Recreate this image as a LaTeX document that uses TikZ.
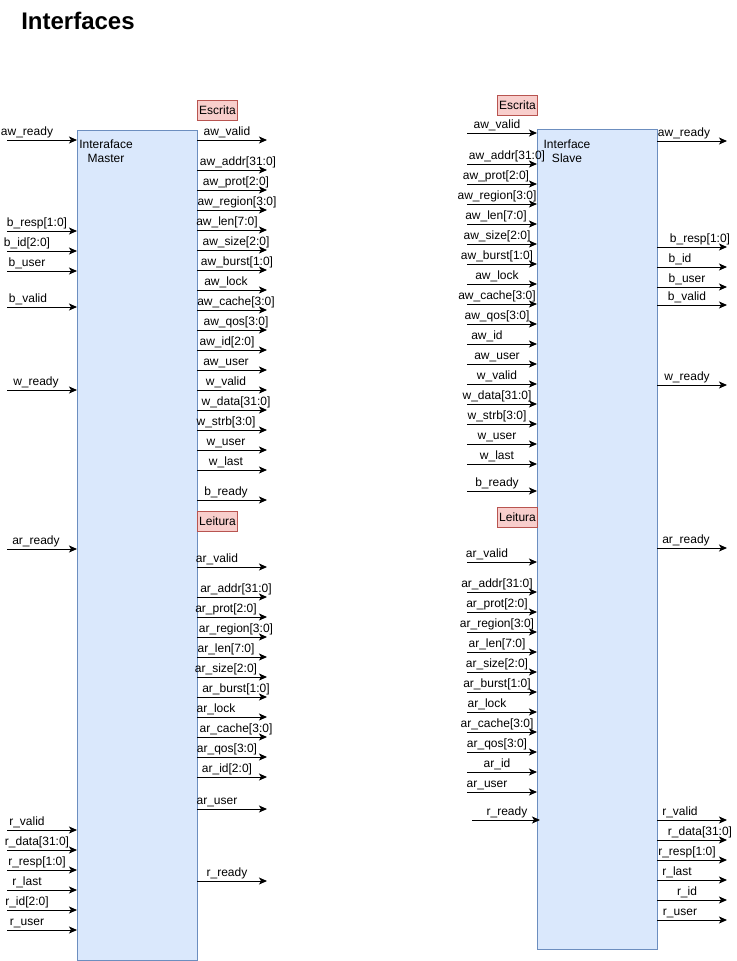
\documentclass[tikz,border=0pt]{standalone}
\usepackage{fontspec}
\setmainfont{Liberation Sans}
\usetikzlibrary{arrows.meta}
\definecolor{boxfill}{HTML}{DAE8FC}
\definecolor{boxline}{HTML}{6C8EBF}
\definecolor{tagfill}{HTML}{F8CECC}
\definecolor{tagline}{HTML}{B85450}
\tikzset{
	sig/.style={line width=0.75pt,-{Stealth[length=6pt,width=5.25pt,inset=1.5pt]}},
	lbl/.style={inner sep=0pt,anchor=base,font=\fontsize{9}{10.5}\selectfont},
	blk/.style={draw=boxline,fill=boxfill,line width=0.75pt,inner sep=0pt,outer sep=0pt,anchor=north west,minimum width=90pt},
	tag/.style={draw=tagline,fill=tagfill,line width=0.75pt,inner sep=0pt,anchor=north west,minimum width=30pt,minimum height=15pt,font=\fontsize{9}{10.5}\selectfont}
}
\newcommand{\sigin}[4]{\draw[sig] (#1.west |- 0,#2) ++(-70,0) coordinate (#1a#2) -- (#1.west |- 0,#2);
	\node[lbl] (#1t#2) at (#3,#2-4.5) {#4}}
\newcommand{\sigout}[4]{\draw[sig] (#1.east |- 0,#2) -- ++(70,0) coordinate (#1a#2);
	\node[lbl] (#1t#2) at (#3,#2-4.5) {#4}}

\begin{document}
\begin{tikzpicture}[x=0.75pt,y=-0.75pt]
	\useasboundingbox (0,0) rectangle (736,961);
	\node[anchor=base west,inner sep=0pt,font=\bfseries\fontsize{18}{20}\selectfont] (ttl) at (21,29) {Interfaces};
%
	\node[blk,minimum height=622.5pt] (mst) at (77,130) {};
	\node[blk,minimum height=615pt] (slv) at (537,129) {};
	\node[lbl,anchor=north,align=center] (msttxt) at (106,139.5) {Interaface\\Master};
	\node[lbl,anchor=north,align=center] (slvtxt) at (567,139.5) {Interface\\Slave};
	\node[tag] (mstw) at (197,100) {Escrita};
	\node[tag] (mstr) at (197,511) {Leitura};
	\node[tag] (slvw) at (497,95) {Escrita};
	\node[tag] (slvr) at (497,507) {Leitura};
%	master, entradas
	\sigin{mst}{140}{27}{aw\_ready};
	\sigin{mst}{231}{37}{b\_resp[1:0]};
	\sigin{mst}{251}{27}{b\_id[2:0]};
	\sigin{mst}{271}{27}{b\_user};
	\sigin{mst}{307}{28}{b\_valid};
	\sigin{mst}{390}{36}{w\_ready};
	\sigin{mst}{549}{36}{ar\_ready};
	\sigin{mst}{830}{27}{r\_valid};
	\sigin{mst}{850}{37}{r\_data[31:0]};
	\sigin{mst}{870}{37}{r\_resp[1:0]};
	\sigin{mst}{890}{27}{r\_last};
	\sigin{mst}{910}{27}{r\_id[2:0]};
	\sigin{mst}{930}{27}{r\_user};
%	master, saidas
	\sigout{mst}{140}{227}{aw\_valid};
	\sigout{mst}{170}{238}{aw\_addr[31:0]};
	\sigout{mst}{190}{236}{aw\_prot[2:0]};
	\sigout{mst}{210}{237}{aw\_region[3:0]};
	\sigout{mst}{230}{227}{aw\_len[7:0]};
	\sigout{mst}{250}{236}{aw\_size[2:0]};
	\sigout{mst}{270}{237}{aw\_burst[1:0]};
	\sigout{mst}{290}{226}{aw\_lock};
	\sigout{mst}{310}{236}{aw\_cache[3:0]};
	\sigout{mst}{330}{236}{aw\_qos[3:0]};
	\sigout{mst}{350}{227}{aw\_id[2:0]};
	\sigout{mst}{370}{226}{aw\_user};
	\sigout{mst}{390}{226}{w\_valid};
	\sigout{mst}{410}{236}{w\_data[31:0]};
	\sigout{mst}{430}{226}{w\_strb[3:0]};
	\sigout{mst}{450}{226}{w\_user};
	\sigout{mst}{470}{226}{w\_last};
	\sigout{mst}{500}{226}{b\_ready};
	\sigout{mst}{567}{217}{ar\_valid};
	\sigout{mst}{597}{236}{ar\_addr[31:0]};
	\sigout{mst}{617}{226}{ar\_prot[2:0]};
	\sigout{mst}{637}{236}{ar\_region[3:0]};
	\sigout{mst}{657}{226}{ar\_len[7:0]};
	\sigout{mst}{677}{226}{ar\_size[2:0]};
	\sigout{mst}{697}{236}{ar\_burst[1:0]};
	\sigout{mst}{717}{216}{ar\_lock};
	\sigout{mst}{737}{236}{ar\_cache[3:0]};
	\sigout{mst}{757}{227}{ar\_qos[3:0]};
	\sigout{mst}{777}{227}{ar\_id[2:0]};
	\sigout{mst}{809}{217}{ar\_user};
	\sigout{mst}{881}{227}{r\_ready};
%	slave, entradas
	\sigin{slv}{133}{497}{aw\_valid};
	\sigin{slv}{164}{507}{aw\_addr[31:0]};
	\sigin{slv}{184}{496}{aw\_prot[2:0]};
	\sigin{slv}{204}{497}{aw\_region[3:0]};
	\sigin{slv}{224}{496}{aw\_len[7:0]};
	\sigin{slv}{244}{497}{aw\_size[2:0]};
	\sigin{slv}{264}{497}{aw\_burst[1:0]};
	\sigin{slv}{284}{497}{aw\_lock};
	\sigin{slv}{304}{497}{aw\_cache[3:0]};
	\sigin{slv}{324}{497}{aw\_qos[3:0]};
	\sigin{slv}{344}{487}{aw\_id};
	\sigin{slv}{364}{497}{aw\_user};
	\sigin{slv}{384}{497}{w\_valid};
	\sigin{slv}{404}{497}{w\_data[31:0]};
	\sigin{slv}{424}{497}{w\_strb[3:0]};
	\sigin{slv}{444}{497}{w\_user};
	\sigin{slv}{464}{497}{w\_last};
	\sigin{slv}{491}{497}{b\_ready};
	\sigin{slv}{562}{487}{ar\_valid};
	\sigin{slv}{592}{497}{ar\_addr[31:0]};
	\sigin{slv}{612}{497}{ar\_prot[2:0]};
	\sigin{slv}{632}{497}{ar\_region[3:0]};
	\sigin{slv}{652}{497}{ar\_len[7:0]};
	\sigin{slv}{672}{497}{ar\_size[2:0]};
	\sigin{slv}{692}{497}{ar\_burst[1:0]};
	\sigin{slv}{712}{487}{ar\_lock};
	\sigin{slv}{732}{497}{ar\_cache[3:0]};
	\sigin{slv}{752}{497}{ar\_qos[3:0]};
	\sigin{slv}{772}{497}{ar\_id};
	\sigin{slv}{792}{487}{ar\_user};
	\coordinate (slvrr) at (540,820);
	\draw[sig] (472,820) coordinate (slva820) -- (slvrr);
	\node[lbl] (slvt820) at (507,815.5) {r\_ready};
%	slave, saidas
	\sigout{slv}{141}{684}{aw\_ready};
	\sigout{slv}{247}{700}{b\_resp[1:0]};
	\sigout{slv}{267}{680}{b\_id};
	\sigout{slv}{287}{687}{b\_user};
	\sigout{slv}{305}{687}{b\_valid};
	\sigout{slv}{385}{687}{w\_ready};
	\sigout{slv}{548}{686}{ar\_ready};
	\sigout{slv}{820}{680}{r\_valid};
	\sigout{slv}{840}{700}{r\_data[31:0]};
	\sigout{slv}{860}{687}{r\_resp[1:0]};
	\sigout{slv}{880}{677}{r\_last};
	\sigout{slv}{900}{687}{r\_id};
	\sigout{slv}{920}{680}{r\_user};
%
\end{tikzpicture}
\end{document}
